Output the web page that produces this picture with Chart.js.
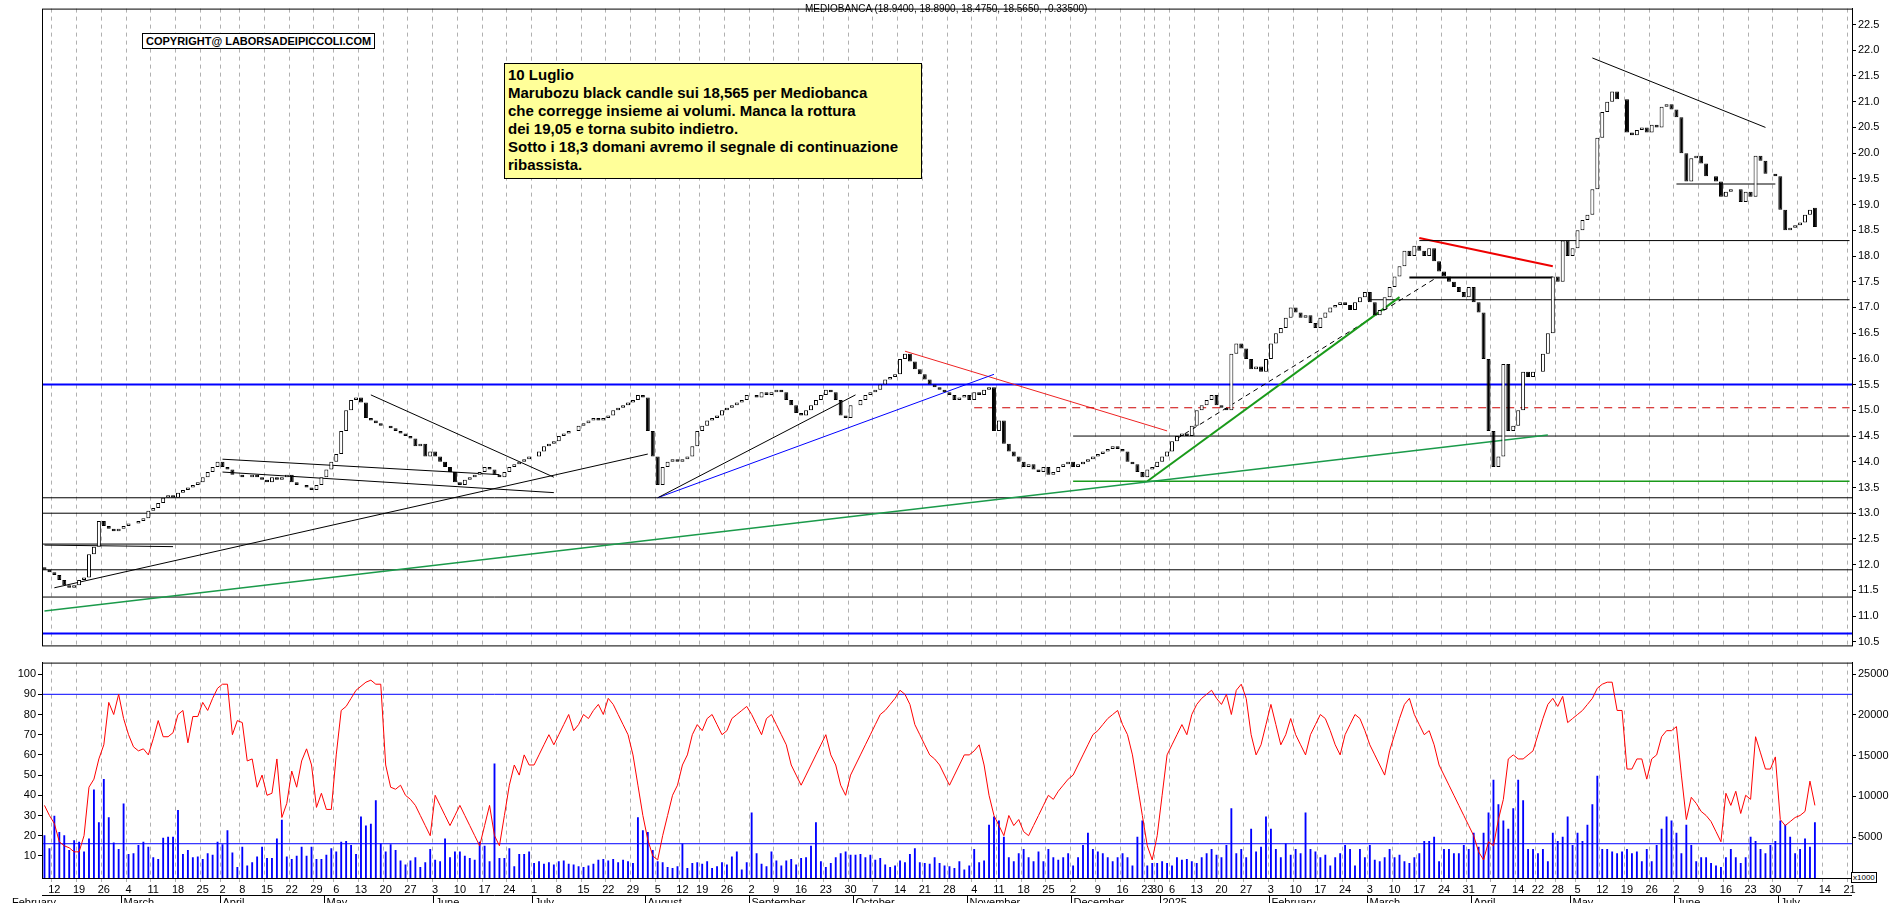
<!DOCTYPE html>
<html><head><meta charset="utf-8">
<script src="https://cdn.jsdelivr.net/npm/chart.js@4/dist/chart.umd.min.js"></script>
<style>
body{margin:0;background:#fff;width:1890px;height:903px;overflow:hidden;position:relative;font-family:Arial,"Liberation Sans",sans-serif}
#w1{position:absolute;left:0;top:0;width:1890px;height:654px}
#w2{position:absolute;left:0;top:654px;width:1890px;height:249px}
#title{position:absolute;left:805px;top:3px;font-size:10px;color:#000}
#copy{position:absolute;left:142px;top:33px;font-size:11px;font-weight:bold;border:1px solid #000;padding:0 3px;background:#fff;line-height:14px}
#note{position:absolute;left:504px;top:63px;width:418px;height:116px;background:#ffff99;border:1px solid #000;font-size:15px;font-weight:bold;line-height:18px;padding:2px 3px;box-sizing:border-box}
#x1000{position:absolute;left:1851px;top:872px;font-size:8px;border:1px solid #000;padding:0 1px;background:#fff}
</style></head><body>
<div id="w1"><canvas id="c1"></canvas></div>
<div id="w2"><canvas id="c2"></canvas></div>
<div id="title">MEDIOBANCA (18.9400, 18.8900, 18.4750, 18.5650, -0.33500)</div>
<div id="copy">COPYRIGHT@ LABORSADEIPICCOLI.COM</div>
<div id="note">10 Luglio<br>Marubozu black candle sui 18,565 per Mediobanca<br>che corregge insieme ai volumi. Manca la rottura<br>dei 19,05 e torna subito indietro.<br>Sotto i 18,3 domani avremo il segnale di continuazione<br>ribassista.</div>
<div id="x1000">x1000</div>
<script>
// ---- categories: trading days (Borsa Italiana) ----
const firstDay = '2024-02-08', lastDay = '2025-07-10', axisEnd = '2025-07-21';
const holidays = ['2024-03-29','2024-04-01','2024-05-01','2024-08-15','2024-12-24','2024-12-25','2024-12-26','2024-12-31','2025-01-01','2025-04-18','2025-04-21','2025-05-01'];
const monthNames = ['January','February','March','April','May','June','July','August','September','October','November','December'];

// ---- closes per month ----
const close_2024_02 = [11.9,11.85,11.8,11.7,11.6,11.55,11.6,11.7,11.75,12.2,12.35,12.85,12.75,12.7,12.65,12.7];
const close_2024_03 = [12.75,12.8,12.8,12.85,12.9,13.05,13.1,13.2,13.3,13.35,13.3,13.4,13.45,13.5,13.55,13.6,13.7,13.8,13.9,14.0];
const close_2024_04 = [13.9,13.85,13.75,13.75,13.7,13.7,13.75,13.7,13.65,13.6,13.7,13.65,13.7,13.75,13.6,13.55,13.55,13.5,13.45,13.55,13.7];
const close_2024_05 = [13.85,14.0,14.15,14.6,15.0,15.2,15.25,15.15,14.85,14.8,14.75,14.7,14.7,14.65,14.6,14.55,14.5,14.45,14.3,14.35,14.1,14.2];
const close_2024_06 = [14.1,14.0,13.9,13.8,13.6,13.55,13.65,13.7,13.75,13.8,13.9,13.85,13.75,13.7,13.8,13.9,13.95,14.0,14.05,14.1];
const close_2024_07 = [14.1,14.2,14.3,14.35,14.4,14.5,14.55,14.6,14.6,14.7,14.75,14.8,14.85,14.8,14.85,14.9,15.0,15.05,15.1,15.15,15.2,15.3,15.25];
const close_2024_08 = [14.6,14.1,13.55,13.9,14.0,14.05,14.0,14.05,14.1,14.3,14.6,14.7,14.8,14.85,14.9,15.0,15.05,15.1,15.15,15.2,15.3];
const close_2024_09 = [15.3,15.25,15.35,15.3,15.35,15.4,15.35,15.2,15.1,14.95,14.9,15.0,15.1,15.2,15.3,15.4,15.35,15.2,14.9,14.85,15.1];
const close_2024_10 = [15.1,15.2,15.3,15.35,15.4,15.5,15.6,15.65,15.7,16.0,16.1,15.95,15.8,15.7,15.6,15.5,15.45,15.4,15.35,15.3,15.2,15.25,15.3];
const close_2024_11 = [15.2,15.35,15.3,15.4,15.45,14.6,14.8,14.35,14.2,14.1,14.0,13.9,13.95,13.85,13.8,13.9,13.75,13.8,13.9,13.95,14.0];
const close_2024_12 = [13.9,13.95,14.0,14.05,14.1,14.15,14.2,14.25,14.3,14.25,14.2,14.0,13.95,13.8,13.7,13.85,13.9,14.0];
const close_2025_01 = [14.1,14.2,14.4,14.5,14.55,14.5,14.7,15.0,15.1,15.2,15.3,15.1,15.05,15.0,16.1,16.3,16.2,16.0,15.8,15.85,15.75,16.0];
const close_2025_02 = [16.3,16.5,16.6,16.8,17.0,16.9,16.8,16.85,16.7,16.6,16.8,16.9,17.0,17.05,17.1,17.05,16.95,17.1,17.2,17.3];
const close_2025_03 = [17.1,16.85,16.95,17.2,17.4,17.6,17.8,18.1,18.0,18.2,18.1,18.0,18.15,17.9,17.7,17.6,17.5,17.4,17.3,17.2,17.4];
const close_2025_04 = [17.1,16.9,16.0,14.6,13.9,14.1,15.9,14.6,14.7,15.0,15.75,15.65,15.75,15.75,16.1,16.5,17.6,17.5,18.3,18.0];
const close_2025_05 = [18.15,18.5,18.7,18.8,19.3,20.3,20.8,21.0,21.2,21.05,21.05,20.4,20.35,20.45,20.5,20.4,20.55,20.5,20.9,20.95,20.85];
const close_2025_06 = [20.7,20.0,19.45,19.9,19.95,19.8,19.55,19.55,19.45,19.15,19.25,19.3,19.3,19.05,19.25,19.15,19.95,19.85,19.6,19.6,19.55];
const close_2025_07 = [18.9,18.5,18.55,18.6,18.65,18.8,18.9,18.565];
const firstOpen = 11.95, lastOpen = 18.94;

// ---- RSI per month ----
const rsi_2024_02 = [35,30,26,17,15,14,12,12,20,44,48,58,65,86,80,90];
const rsi_2024_03 = [78,70,64,62,63,60,68,77,69,69,71,80,82,66,79,79,86,82,88,93];
const rsi_2024_04 = [95,95,70,77,76,57,58,44,50,40,41,58,29,36,52,44,57,63,55,34,41];
const rsi_2024_05 = [33,33,60,82,84,88,92,94,96,97,95,95,55,44,43,45,40,38,35,30,25,20];
const rsi_2024_06 = [40,35,30,25,30,35,30,25,20,15,25,35,20,15,30,45,55,50,60,55];
const rsi_2024_07 = [55,60,65,70,65,70,75,80,72,75,80,78,82,85,80,88,85,80,75,70,60,45,30];
const rsi_2024_08 = [18,10,8,20,30,40,45,55,60,70,75,72,78,80,75,70,72,78,80,82,84];
const rsi_2024_09 = [80,75,70,78,80,75,70,65,55,50,45,50,55,60,65,70,60,55,45,40,50];
const rsi_2024_10 = [55,60,65,70,75,80,82,85,88,92,90,85,75,70,65,60,58,55,50,45,50,55,60];
const rsi_2024_11 = [60,62,65,55,40,30,25,20,30,25,28,22,20,25,30,35,40,38,42,45,48];
const rsi_2024_12 = [50,55,60,65,70,72,75,78,80,82,75,70,60,45,30,15,8,20];
const rsi_2025_01 = [40,60,65,70,75,70,80,85,88,90,92,88,85,90,80,92,95,88,70,60,65,75];
const rsi_2025_02 = [85,75,65,70,78,70,65,60,70,75,80,78,72,65,60,70,75,80,78,72];
const rsi_2025_03 = [65,60,55,50,62,70,78,85,88,80,75,70,72,65,55,50,45,40,35,30,25];
const rsi_2025_04 = [20,12,8,17,15,28,38,58,60,58,58,60,62,70,78,85,88,84,89,76];
const rsi_2025_05 = [78,80,82,85,88,93,95,96,96,82,82,53,53,58,58,48,58,60,69,72,72];
const rsi_2025_06 = [74,50,28,39,36,32,30,27,22,17,41,35,42,31,40,38,69,61,53,53,59];
const rsi_2025_07 = [28,25,27,29,30,32,47,35];

// ---- volume (x1000) per month ----
const vol_2024_02 = [5.2,3.6,7.6,5.6,5.2,3.4,4.6,4.4,3.2,4.8,10.8,6.8,12.1,7.4,4.3,3.5];
const vol_2024_03 = [9.1,2.9,3.0,4.0,4.4,3.8,2.5,2.3,4.9,5.0,5.0,8.3,2.9,3.4,2.5,2.6,2.3,3.0,2.8,4.4];
const vol_2024_04 = [4.1,5.8,3.1,1.3,3.8,1.5,1.9,2.6,3.8,2.4,2.4,4.8,7.1,2.6,2.3,2.7,3.8,2.7,3.8,2.3,2.3];
const vol_2024_05 = [2.8,3.6,3.2,4.4,4.5,4.0,2.9,7.5,6.4,6.6,9.5,4.2,3.2,4.1,3.4,2.1,1.6,2.1,2.5,1.3,1.9,3.5];
const vol_2024_06 = [2.2,2.0,4.8,2.5,3.2,3.2,2.7,2.4,2.2,4.4,3.9,2.0,14.0,2.4,2.4,3.6,1.4,2.9,2.9,3.2];
const vol_2024_07 = [1.8,2.0,1.7,1.9,1.6,2.0,2.1,1.7,1.6,1.4,1.3,1.5,1.7,2.2,2.3,2.1,2.3,1.9,2.2,2.0,1.8,7.4,5.8];
const vol_2024_08 = [5.6,3.4,2.0,1.9,1.3,1.2,1.4,4.2,1.2,1.8,1.9,1.7,2.0,1.2,1.4,1.9,1.6,2.6,3.2,1.0,1.9];
const vol_2024_09 = [8.0,3.0,1.7,1.4,3.2,2.1,1.5,2.1,2.3,1.6,2.4,2.5,3.9,6.8,2.0,1.3,1.8,2.5,3.0,3.2,2.8];
const vol_2024_10 = [2.8,2.9,2.5,2.8,2.2,2.4,1.6,1.3,1.5,2.1,1.9,2.9,3.6,1.9,1.8,1.7,2.5,1.8,1.5,1.4,1.2,2.0,1.0];
const vol_2024_11 = [1.5,3.5,1.9,2.1,6.5,7.5,7.0,5.0,2.5,2.0,3.0,3.5,2.5,2.0,3.2,2.0,3.5,2.5,2.2,2.5,3.0];
const vol_2024_12 = [1.5,2.5,4.0,5.5,3.5,3.2,3.0,2.5,2.0,2.5,3.0,2.5,1.5,5.0,7.0,1.5,1.8,1.8];
const vol_2025_01 = [2.0,1.8,1.5,2.5,2.2,2.3,2.0,1.8,2.5,3.0,3.5,2.8,2.5,4.0,8.5,3.0,3.5,2.5,6.0,3.2,3.8,7.5];
const vol_2025_02 = [6.0,3.5,2.5,4.2,2.8,3.5,3.0,8.0,3.5,3.2,2.5,2.8,1.5,2.5,3.0,4.0,3.5,1.5,3.5,2.5];
const vol_2025_03 = [4.0,2.2,2.0,2.5,3.5,2.5,2.8,2.0,1.8,2.5,3.0,4.5,4.5,5.0,2.0,3.5,3.5,3.0,3.0,4.0,3.5];
const vol_2025_04 = [5.5,3.8,5.5,8.0,12.0,9.0,7.0,6.0,8.5,12.0,9.5,3.5,3.5,3.0,3.5,2.0,5.5,4.5,5.0,7.5];
const vol_2025_05 = [4.0,5.5,4.5,6.5,9.0,12.5,3.5,3.5,3.2,3.0,3.2,3.5,3.0,3.2,2.0,3.5,2.0,4.0,6.0,7.5,7.0];
const vol_2025_06 = [5.5,3.0,6.5,4.0,2.0,2.5,2.5,1.8,1.5,1.3,2.5,3.5,2.5,1.8,2.5,5.0,4.5,3.5,3.0,4.0,4.5];
const vol_2025_07 = [7.0,6.5,5.0,3.0,3.5,4.8,3.8,6.8];

// ---- horizontal reference lines [value, colour, width, dash] ----
const priceHLines = [[15.5,'#0000ff',2,[]],[10.66,'#0000ff',2,[]],[13.3,'#000',1,[]],[13.0,'#000',1,[]],[12.4,'#000',1,[]],[11.9,'#000',1,[]],[11.37,'#000',1,[]]];
const rsiHLines = [[90,'#0000ff',1]];
const volHLines = [[4.2,'#0000ff',1]];
// ---- drawn trend lines: [fromDate, fromValue, toDate, toValue, colour, width, dash] ----
const trendLines = [
 ['2024-02-08',11.1,'2025-04-24',14.52,'#1a9a4a',1.5,[]],
 ['2024-12-23',13.62,'2025-03-11',17.2,'#1a9a1a',2,[]],
 ['2024-12-02',13.62,'2025-07-21',13.62,'#1a9a1a',1.5,[]],
 ['2024-12-02',14.5,'2025-07-21',14.5,'#000',1,[]],
 ['2024-11-04',15.05,'2025-07-21',15.05,'#cc0000',1,[8,6]],
 ['2025-03-03',17.15,'2025-07-21',17.15,'#000',1,[]],
 ['2025-03-17',18.3,'2025-07-21',18.3,'#000',1,[]],
 ['2025-06-02',19.4,'2025-06-30',19.4,'#000',1,[]],
 ['2024-02-08',12.38,'2024-03-15',12.35,'#000',1,[]],
 ['2024-02-12',11.55,'2024-08-01',14.15,'#000',1,[]],
 ['2024-04-02',14.05,'2024-06-20',13.75,'#000',1,[]],
 ['2024-04-02',13.8,'2024-07-05',13.4,'#000',1,[]],
 ['2024-05-15',15.3,'2024-07-05',13.7,'#000',1,[]],
 ['2024-08-05',13.3,'2024-10-01',15.3,'#000',1,[]],
 ['2024-08-05',13.3,'2024-11-08',15.7,'#0000ff',1,[]],
 ['2024-10-15',16.15,'2025-01-03',14.6,'#ee2222',1,[]],
 ['2025-01-07',14.45,'2025-03-20',17.55,'#000',1,[5,4]],
 ['2025-03-17',18.35,'2025-04-25',17.8,'#ee0000',2,[]],
 ['2025-03-13',17.58,'2025-04-25',17.58,'#000',2,[]],
 ['2025-05-08',21.85,'2025-06-26',20.5,'#000',1,[]]
];

// ---- build ----
function iso(d){return d.toISOString().slice(0,10);}
const labels=[];
for(let d=new Date(firstDay+'T00:00:00Z'); iso(d)<=axisEnd; d.setUTCDate(d.getUTCDate()+1)){
  const wd=d.getUTCDay(); if(wd===0||wd===6) continue; if(holidays.includes(iso(d))) continue; labels.push(iso(d));
}
const closes=[].concat(close_2024_02,close_2024_03,close_2024_04,close_2024_05,close_2024_06,close_2024_07,close_2024_08,close_2024_09,close_2024_10,close_2024_11,close_2024_12,close_2025_01,close_2025_02,close_2025_03,close_2025_04,close_2025_05,close_2025_06,close_2025_07);
const rsi=[].concat(rsi_2024_02,rsi_2024_03,rsi_2024_04,rsi_2024_05,rsi_2024_06,rsi_2024_07,rsi_2024_08,rsi_2024_09,rsi_2024_10,rsi_2024_11,rsi_2024_12,rsi_2025_01,rsi_2025_02,rsi_2025_03,rsi_2025_04,rsi_2025_05,rsi_2025_06,rsi_2025_07);
const vol=[].concat(vol_2024_02,vol_2024_03,vol_2024_04,vol_2024_05,vol_2024_06,vol_2024_07,vol_2024_08,vol_2024_09,vol_2024_10,vol_2024_11,vol_2024_12,vol_2025_01,vol_2025_02,vol_2025_03,vol_2025_04,vol_2025_05,vol_2025_06,vol_2025_07);
const candles=labels.map((l,i)=>{ if(i>=closes.length) return null; let o=i===0?firstOpen:closes[i-1]; if(i===closes.length-1) o=lastOpen; return [o,closes[i]]; });
const upDown=candles.map(c=>c&&c[1]>=c[0]);
const weekFirst=labels.map((l,i)=>{ if(i===0) return false; const a=new Date(labels[i-1]+'T00:00:00Z'), b=new Date(l+'T00:00:00Z'); return b.getUTCDay()<a.getUTCDay() || (b-a)>=7*864e5; });

Chart.defaults.font.family='Arial, "Liberation Sans", sans-serif';
Chart.defaults.font.size=11; Chart.defaults.color='#000';
Chart.defaults.animation=false; Chart.defaults.responsive=false;

function xAxis(show){ return {type:'category',offset:true,
  afterFit:s=>{ if(!show) s.height=0; else s.height=25; },
  grid:{drawTicks:show,tickLength:4,color:c=>weekFirst[c.index]?'#b0b0b0':'rgba(0,0,0,0)',drawOnChartArea:true},
  border:{display:show,color:'#000',dash:[4,4]},
  ticks:{display:show,autoSkip:false,maxRotation:0,padding:1,font:{size:11},
    callback:function(v,i){ return weekFirst[i]? String(parseInt(labels[i].slice(8),10)):''; }} };
}
const hlinePlugin={id:'hl',beforeDatasetsDraw(ch,a,opts){
  const {ctx,chartArea:ca}=ch;
  (opts.lines||[]).forEach(([v,c,w,d,axis])=>{ const y=ch.scales[axis].getPixelForValue(v); ctx.save(); ctx.strokeStyle=c; ctx.lineWidth=w; ctx.setLineDash(d||[]); ctx.beginPath(); ctx.moveTo(ca.left,y); ctx.lineTo(ca.right,y); ctx.stroke(); ctx.restore(); });
  ctx.save(); ctx.strokeStyle='#000'; ctx.lineWidth=1; ctx.strokeRect(ca.left+0.5,ca.top+0.5,ca.right-ca.left,ca.bottom-ca.top); ctx.restore();
}};

const c1=document.getElementById('c1'); c1.width=1890; c1.height=654;
const trendDs=trendLines.map(t=>({type:'line',data:[{x:t[0],y:t[1]},{x:t[2],y:t[3]}],borderColor:t[4],borderWidth:t[5],borderDash:t[6],pointRadius:0,yAxisID:'y',order:2}));
new Chart(c1,{type:'bar',data:{labels,datasets:[
  {data:candles,backgroundColor:upDown.map(u=>u?'#fff':'#000'),borderColor:'#000',borderWidth:1,borderSkipped:false,barPercentage:0.8,categoryPercentage:1,yAxisID:'y',order:1},
  ...trendDs]},
 options:{devicePixelRatio:1,layout:{padding:{left:42,top:0,right:0,bottom:0}},
  plugins:{legend:{display:false},tooltip:{enabled:false},hl:{lines:priceHLines.map(l=>[...l,'y'])}},
  scales:{x:xAxis(false),
   y:{position:'right',min:10.43,max:22.81,afterFit:s=>{s.width=38;},
      afterBuildTicks:s=>{s.ticks=[];for(let v=10.5;v<=22.5;v+=0.5)s.ticks.push({value:v});},
      grid:{drawOnChartArea:false,tickLength:4,color:'#000'},border:{color:'#000'},
      ticks:{callback:v=>v.toFixed(1),padding:2,font:{size:11}}}}},
 plugins:[hlinePlugin]});

const monthPlugin={id:'mp',afterDraw(ch){
  const {ctx,chartArea:ca}=ch; const xs=ch.scales.x; ctx.save(); ctx.font='11px Arial'; ctx.fillStyle='#000'; ctx.strokeStyle='#000'; ctx.lineWidth=1;
  ctx.beginPath(); ctx.moveTo(ca.left,ca.bottom+17.5); ctx.lineTo(ca.right,ca.bottom+17.5); ctx.stroke();
  labels.forEach((l,i)=>{ if(i>0 && l.slice(5,7)===labels[i-1].slice(5,7)) return;
    const m=parseInt(l.slice(5,7),10)-1; const x=Math.round(xs.getPixelForValue(i)-2.4)+0.5;
    if(i>0){ctx.beginPath();ctx.moveTo(x,ca.bottom+17);ctx.lineTo(x,ca.bottom+25);ctx.stroke();}
    const name=(m===0)?l.slice(0,4):monthNames[m];
    ctx.fillText(name, i===0? ca.left-30 : x+2, ca.bottom+28);
  }); ctx.restore();
}};
const c2=document.getElementById('c2'); c2.width=1890; c2.height=249;
new Chart(c2,{type:'bar',data:{labels,datasets:[
  {type:'line',data:rsi,borderColor:'#ff0000',borderWidth:1,pointRadius:0,yAxisID:'rsi',order:1},
  {data:vol,backgroundColor:'#0000ff',barThickness:1.2,yAxisID:'vol',order:2}]},
 options:{devicePixelRatio:1,layout:{padding:0},
  plugins:{legend:{display:false},tooltip:{enabled:false},hl:{lines:[...rsiHLines.map(l=>[l[0],l[1],l[2],[],'rsi']),...volHLines.map(l=>[l[0],l[1],l[2],[],'vol'])]}},
  scales:{x:xAxis(true),
   rsi:{type:'linear',position:'left',min:-0.95,max:105.7,afterFit:s=>{s.width=42;},
      afterBuildTicks:s=>{s.ticks=[];for(let v=10;v<=100;v+=10)s.ticks.push({value:v});},
      grid:{drawOnChartArea:false,tickLength:4,color:'#000'},border:{color:'#000'},ticks:{padding:2}},
   vol:{type:'linear',position:'right',min:0,max:26.4,afterFit:s=>{s.width=38;},
      afterBuildTicks:s=>{s.ticks=[];for(let v=5;v<=25;v+=5)s.ticks.push({value:v});},
      grid:{drawOnChartArea:false,tickLength:4,color:'#000'},border:{color:'#000'},ticks:{padding:2,callback:v=>String(v*1000)}}}},
 plugins:[hlinePlugin,monthPlugin]});
</script></body></html>
